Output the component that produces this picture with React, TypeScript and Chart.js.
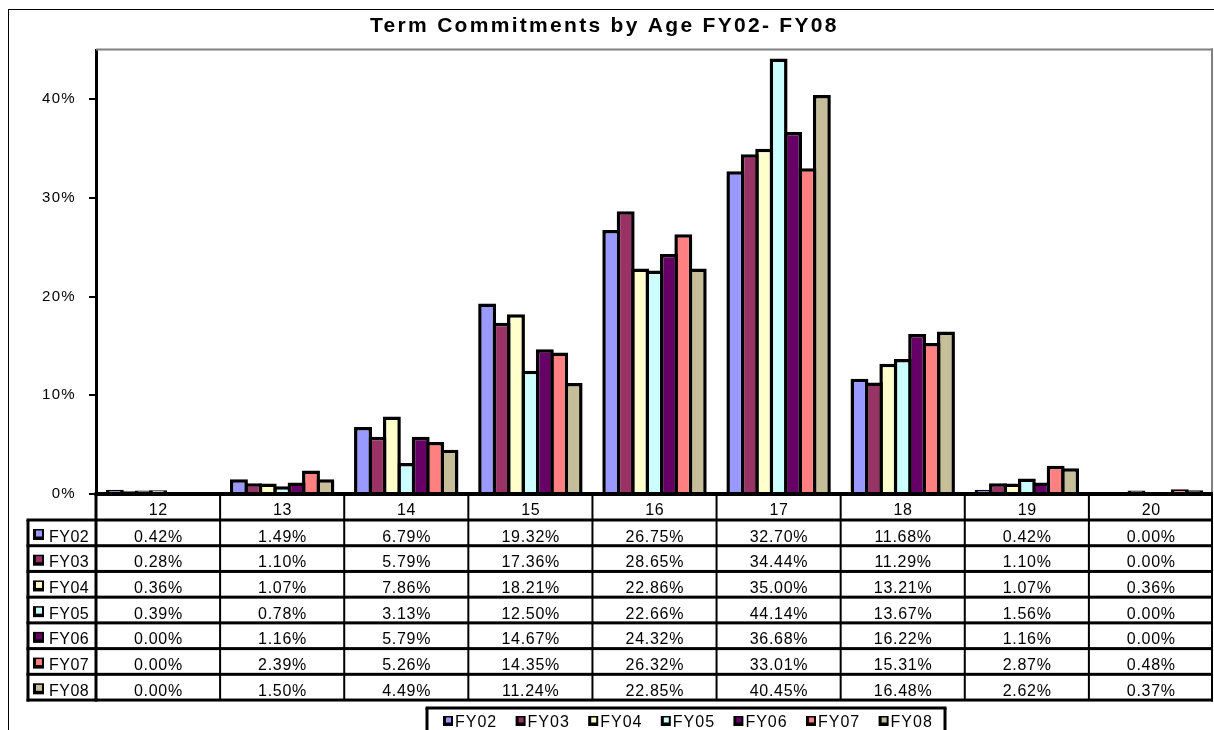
import React, { useEffect, useRef } from 'react';
import { Chart, registerables } from 'chart.js';

Chart.register(...registerables);

const TITLE = 'Term Commitments by Age FY02- FY08';
const AGES = ['12', '13', '14', '15', '16', '17', '18', '19', '20'];
const SERIES_NAMES = ['FY02', 'FY03', 'FY04', 'FY05', 'FY06', 'FY07', 'FY08'];
const FY02 = [0.42, 1.49, 6.79, 19.32, 26.75, 32.7, 11.68, 0.42, 0.0];
const FY03 = [0.28, 1.1, 5.79, 17.36, 28.65, 34.44, 11.29, 1.1, 0.0];
const FY04 = [0.36, 1.07, 7.86, 18.21, 22.86, 35.0, 13.21, 1.07, 0.36];
const FY05 = [0.39, 0.78, 3.13, 12.5, 22.66, 44.14, 13.67, 1.56, 0.0];
const FY06 = [0.0, 1.16, 5.79, 14.67, 24.32, 36.68, 16.22, 1.16, 0.0];
const FY07 = [0.0, 2.39, 5.26, 14.35, 26.32, 33.01, 15.31, 2.87, 0.48];
const FY08 = [0.0, 1.5, 4.49, 11.24, 22.85, 40.45, 16.48, 2.62, 0.37];
const SERIES_VALUES = [FY02, FY03, FY04, FY05, FY06, FY07, FY08];
const SERIES_COLORS = ['#9999FF', '#993366', '#FFFFCC', '#CCFFFF', '#660066', '#FF8080', '#C6BE98'];
const Y_TICKS = [0, 10, 20, 30, 40];
const Y_MAX = 45;

const FONT = '"Liberation Sans", Arial, Helvetica, sans-serif';

// layout constants
const W = 1214;
const H = 730;
const HEADER_H = 26;
const ROW_H = 25.72;
const KEY_COL_LEFT = 28;
const LEGEND_BOX = { left: 427, top: 708, right: 945 };
const LEGEND_START = 443;
const LEGEND_STEP = 72.6;

function drawSpaced(ctx: CanvasRenderingContext2D, text: string, x: number, y: number, align: 'left' | 'center', ls: number) {
  ctx.letterSpacing = ls + 'px';
  ctx.textAlign = 'left';
  const w = ctx.measureText(text).width - ls;
  const sx = align === 'center' ? x - w / 2 : x;
  ctx.fillText(text, sx, y);
}

const decorPlugin = {
  id: 'excelDecor',
  beforeDraw(chart: any) {
    const ctx: CanvasRenderingContext2D = chart.ctx;
    ctx.save();
    ctx.fillStyle = '#fff';
    ctx.fillRect(0, 0, chart.width, chart.height);
    ctx.restore();
    ctx.letterSpacing = '1.3px';
  },
  beforeDatasetsDraw(chart: any) {
    const ctx: CanvasRenderingContext2D = chart.ctx;
    const ca = chart.chartArea;
    ctx.save();
    ctx.fillStyle = '#808080';
    ctx.fillRect(ca.left, ca.top - 1.5, ca.right - ca.left, 2);
    ctx.fillRect(ca.right - 2, ca.top - 1.5, 2, ca.bottom - ca.top);
    ctx.restore();
  },
  afterDraw(chart: any) {
    const ctx: CanvasRenderingContext2D = chart.ctx;
    const ca = chart.chartArea;
    const xs = chart.scales.x;
    const n = AGES.length;
    const bounds: number[] = [];
    for (let i = 0; i <= n; i++) {
      if (i === 0) bounds.push(ca.left);
      else if (i === n) bounds.push(ca.right);
      else bounds.push((xs.getPixelForValue(i - 1) + xs.getPixelForValue(i)) / 2);
    }
    const hline = (x1: number, x2: number, y: number, w: number, c = '#000') => {
      ctx.fillStyle = c;
      ctx.fillRect(x1, y - w / 2, x2 - x1, w);
    };
    const vline = (x: number, y1: number, y2: number, w: number, c = '#000') => {
      ctx.fillStyle = c;
      ctx.fillRect(x - w / 2, y1, w, y2 - y1);
    };
    ctx.save();

    // outer chart border
    hline(8, W, 9.5, 1);
    vline(8.5, 9, H, 1);

    // title
    ctx.fillStyle = '#000';
    ctx.font = `bold 21px ${FONT}`;
    ctx.textBaseline = 'alphabetic';
    drawSpaced(ctx, TITLE, 370, 32, 'left', 2.3);

    // table geometry
    const top = ca.bottom;
    const headerBottom = top + HEADER_H;
    const rows = SERIES_NAMES.length;
    const tableBottom = headerBottom + rows * ROW_H;

    // x axis line
    hline(ca.left - 1.5, ca.right, top, 4);

    // horizontal row lines
    for (let r = 0; r <= rows; r++) {
      hline(KEY_COL_LEFT - 1.5, ca.right, headerBottom + r * ROW_H, 3);
    }
    // vertical lines
    vline(KEY_COL_LEFT, headerBottom, tableBottom + 1.5, 3);
    vline(ca.left, top, tableBottom + 1.5, 3);
    for (let i = 1; i < n; i++) vline(bounds[i], top, tableBottom, 2);
    vline(ca.right - 1, top, tableBottom + 1.5, 2);

    // header labels
    ctx.fillStyle = '#000';
    ctx.font = `16px ${FONT}`;
    for (let i = 0; i < n; i++) {
      drawSpaced(ctx, AGES[i], (bounds[i] + bounds[i + 1]) / 2, top + 21, 'center', 0.6);
    }
    // rows
    for (let r = 0; r < rows; r++) {
      const rt = headerBottom + r * ROW_H;
      // key
      ctx.fillStyle = '#000';
      ctx.fillRect(33, rt + 9, 11, 11);
      ctx.fillStyle = SERIES_COLORS[r];
      ctx.fillRect(36, rt + 10.5, 6, 6);
      ctx.fillStyle = '#000';
      drawSpaced(ctx, SERIES_NAMES[r], 49, rt + 21.5, 'left', 0.5);
      const vals = SERIES_VALUES[r];
      for (let i = 0; i < n; i++) {
        drawSpaced(ctx, vals[i].toFixed(2) + '%', (bounds[i] + bounds[i + 1]) / 2, rt + 21.5, 'center', 0.7);
      }
    }

    // bottom legend
    hline(LEGEND_BOX.left - 1.5, LEGEND_BOX.right + 1.5, LEGEND_BOX.top, 3);
    vline(LEGEND_BOX.left, LEGEND_BOX.top, H, 3);
    vline(LEGEND_BOX.right, LEGEND_BOX.top, H, 3);
    ctx.font = `16px ${FONT}`;
    for (let s = 0; s < SERIES_NAMES.length; s++) {
      const kx = LEGEND_START + s * LEGEND_STEP;
      ctx.fillStyle = '#000';
      ctx.fillRect(kx, 716, 10, 10);
      ctx.fillStyle = SERIES_COLORS[s];
      ctx.fillRect(kx + 3, 717.5, 5, 5);
      ctx.fillStyle = '#000';
      drawSpaced(ctx, SERIES_NAMES[s], kx + 12, 727, 'left', 1);
    }
    ctx.restore();
  },
};

export default function App() {
  const ref = useRef<HTMLCanvasElement | null>(null);
  useEffect(() => {
    if (!ref.current) return;
    const chart = new Chart(ref.current, {
      type: 'bar',
      data: {
        labels: AGES,
        datasets: SERIES_NAMES.map((name, i) => ({
          label: name,
          data: SERIES_VALUES[i],
          backgroundColor: SERIES_COLORS[i],
          borderColor: '#000',
          borderWidth: 3.5,
          categoryPercentage: 0.813,
          barPercentage: 1.243,
        })),
      },
      options: {
        animation: false,
        responsive: false,
        devicePixelRatio: 1,
        layout: { padding: { left: 8, right: 1, top: 50, bottom: 236 } },
        plugins: {
          legend: { display: false },
          title: { display: false },
          tooltip: { enabled: false },
        },
        scales: {
          x: {
            type: 'category',
            display: false,
            offset: true,
            grid: { display: false },
          },
          y: {
            min: 0,
            max: Y_MAX,
            afterBuildTicks: (s: any) => {
              s.ticks = Y_TICKS.map((v) => ({ value: v }));
            },
            afterFit: (s: any) => {
              s.width = 88;
            },
            ticks: {
              callback: (v: any) => `${v}%`,
              font: { family: FONT, size: 15 },
              color: '#000',
              padding: 13,
              autoSkip: false,
            },
            grid: {
              display: true,
              drawOnChartArea: false,
              drawTicks: true,
              tickLength: 7,
              color: '#000',
              lineWidth: 2,
            },
            border: { display: true, color: '#000', width: 3 },
          },
        },
      },
      plugins: [decorPlugin],
    } as any);
    return () => chart.destroy();
  }, []);
  return (
    <div style={{ position: 'absolute', left: 0, top: 0, width: W, height: H, background: '#fff', overflow: 'hidden' }}>
      <canvas ref={ref} width={W} height={H} style={{ display: 'block', width: W, height: H }} />
    </div>
  );
}
